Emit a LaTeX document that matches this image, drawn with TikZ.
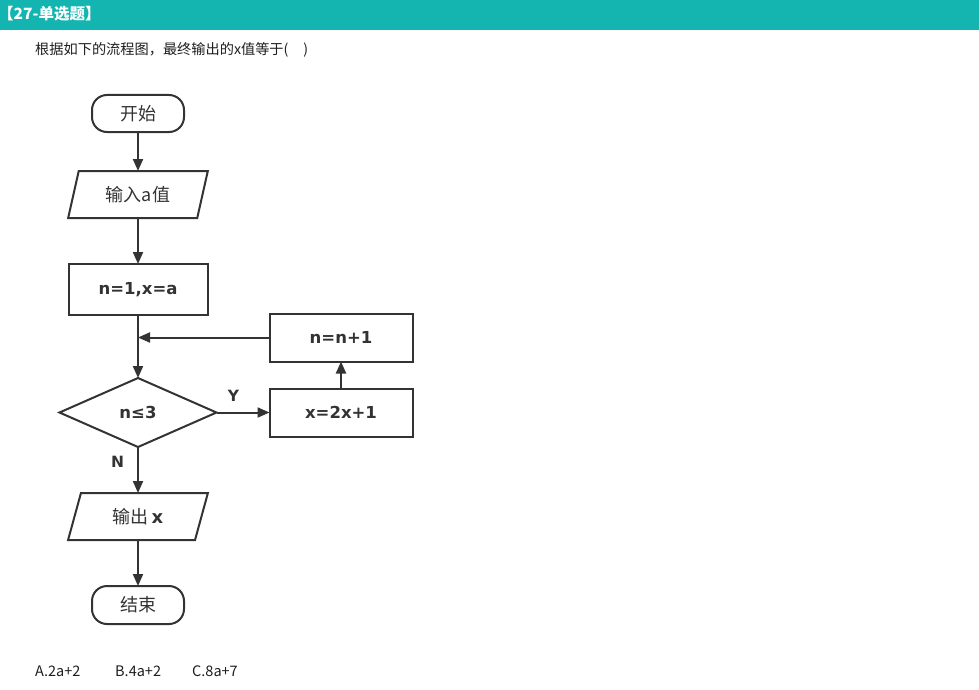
\documentclass[tikz,border=0pt]{standalone}
\usepackage{fontspec}
\usepackage{xcolor}
\usetikzlibrary{arrows.meta,positioning,shapes.geometric,calc}
\setmainfont{DejaVu Sans}
\newfontfamily\cjk{Noto Sans CJK SC}
\definecolor{quizTeal}{HTML}{14B5B1}
\definecolor{quizInk}{HTML}{333333}
\definecolor{quizText}{HTML}{1E1E1E}

\begin{document}
\begin{tikzpicture}[
    x=1pt, y=-1pt,
    node distance=40pt and 53pt,
    terminal/.style={
        rectangle,
        rounded corners=15pt,
        draw=quizInk,
        line width=2pt,
        minimum width=92pt,
        minimum height=37pt,
        inner sep=0pt,
        outer sep=0pt,
        text=quizInk,
        font=\cjk\fontsize{18}{18}\selectfont
    },
    iobox/.style={
        trapezium,
        trapezium left angle=71,
        trapezium right angle=109,
        trapezium stretches=true,
        draw=quizInk,
        line width=2pt,
        minimum width=140pt,
        minimum height=47pt,
        inner sep=0pt,
        outer sep=0pt,
        text=quizInk,
        font=\cjk\fontsize{18}{18}\selectfont
    },
    procbox/.style={
        rectangle,
        draw=quizInk,
        line width=2pt,
        minimum width=143pt,
        minimum height=48pt,
        inner sep=0pt,
        outer sep=0pt,
        text=quizInk,
        font=\bfseries\fontsize{16.5}{16.5}\selectfont
    },
    decision/.style={
        diamond,
        aspect=2.28,
        draw=quizInk,
        line width=2pt,
        minimum width=157pt,
        minimum height=69pt,
        inner sep=0pt,
        outer sep=0pt,
        text=quizInk,
        font=\bfseries\fontsize{16.5}{16.5}\selectfont
    },
    branch/.style={
        text=quizInk,
        inner sep=2pt,
        font=\bfseries\fontsize{15.5}{15.5}\selectfont
    },
    plain/.style={
        anchor=west,
        inner sep=0pt,
        text=quizText,
        font=\cjk\fontsize{14.2}{14.2}\selectfont
    },
    flow/.style={
        -{Triangle[length=12pt,width=10pt]},
        line width=2pt,
        draw=quizInk
    }
]
\useasboundingbox (0,0) rectangle (979,690);

% -------------------- Header -------------------------------
\fill[quizTeal] (0,0) rectangle (979,30);
\node[anchor=west, inner sep=0pt, text=white, font=\cjk\bfseries\fontsize{15.5}{15.5}\selectfont] (title) at (-2,14) {【27-单选题】};

\node[plain] (question) at (35,50) {根据如下的流程图，最终输出的x值等于(\hspace{15pt})};

% -------------------- Main column ---------------------------
\node[terminal] (start) at (138,113.5) {开始};

\node[iobox, below=39pt of start] (input) {输入a值};

\node[procbox, minimum width=139pt, minimum height=51pt, below=46pt of input] (init) {n=1,x=a};

\node[decision, below=63pt of init] (check) {n≤3};

\node[iobox, below=46pt of check] (output) {输出\,{\fontspec{DejaVu Sans}\bfseries x}};

\node[terminal, minimum height=38pt, below=46pt of output] (stop) {结束};

% -------------------- Loop body ------------------------------
\node[procbox, right=53pt of check] (update) {x=2x+1};

\node[procbox, above=27pt of update] (incr) {n=n+1};

\coordinate (merge) at (init.south |- incr.west);

% -------------------- Flows ---------------------------------
\draw[flow] (start.south) -- (input.north);
\draw[flow] (input.south) -- (init.north);
\draw[flow] (init.south) -- (check.north);
\draw[flow] (check.east) -- node[branch, above=8pt, pos=0.32] (yes) {Y} (update.west);
\draw[flow] (update.north) -- (incr.south);
\draw[flow] (incr.west) -- (merge);
\draw[flow] (check.south) -- node[branch, left=11pt, pos=0.33] (no) {N} (output.north);
\draw[flow] (output.south) -- (stop.north);

% -------------------- Options -------------------------------
\node[plain, font=\cjk\fontsize{14.5}{14.5}\selectfont] (optA) at (35,671) {A.2a+2};
\node[plain, font=\cjk\fontsize{14.5}{14.5}\selectfont] (optB) at (115,671) {B.4a+2};
\node[plain, font=\cjk\fontsize{14.5}{14.5}\selectfont] (optC) at (192,671) {C.8a+7};

\end{tikzpicture}
\end{document}
